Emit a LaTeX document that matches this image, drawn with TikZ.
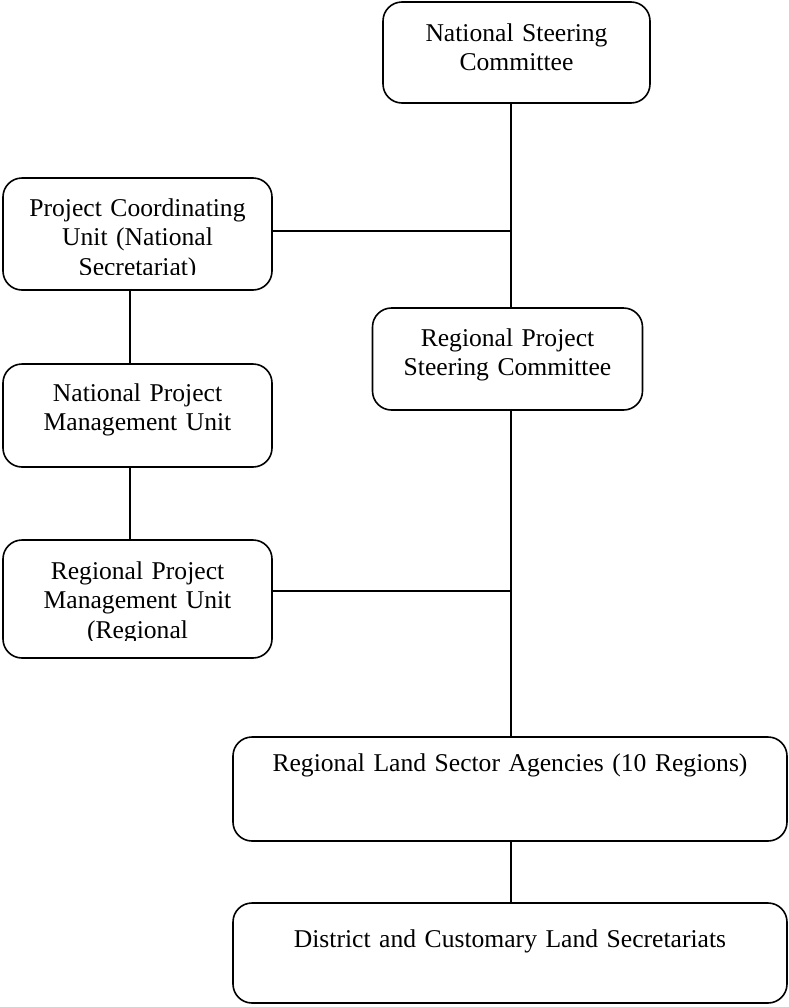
\documentclass[tikz,border=0pt]{standalone}
\usepackage{fontspec}
\setmainfont{Liberation Serif}

\begin{document}
\begin{tikzpicture}[x=1pt, y=-1pt,
    box/.style={rectangle, draw, line width=1.6pt, rounded corners=19pt, inner sep=0pt},
    lbl/.style={anchor=base, text width=262pt, align=center, inner sep=0pt, font=\fontsize{25.6}{29.5}\selectfont},
    link/.style={line width=1.5pt}]
    \useasboundingbox (0,0) rectangle (789,1007);

    % boxes
    \node [box, minimum width=267pt, minimum height=101pt] (nsc) at (516.5,52.5) {};
    \node [box, minimum width=269pt, minimum height=112pt] (pcu) at (137.5,234) {};
    \node [box, minimum width=270pt, minimum height=102pt] (rpsc) at (507.5,359) {};
    \node [box, minimum width=269pt, minimum height=103pt] (npmu) at (137.5,415.5) {};
    \node [box, minimum width=269pt, minimum height=118pt] (rpmu) at (137.5,599) {};
    \node [box, minimum width=554pt, minimum height=104pt] (rlsa) at (510,789) {};
    \node [box, minimum width=554pt, minimum height=100pt] (dcls) at (510,953) {};

    % labels
    \node [lbl] (nsc text) at ([yshift=-40pt]nsc.north) {National Steering\\Committee};
    \begin{scope}
        \clip (0,178) rectangle (280,274.5);
        \node [lbl] (pcu text) at ([yshift=-39pt]pcu.north) {Project Coordinating\\Unit (National\\Secretariat)};
    \end{scope}
    \node [lbl] (rpsc text) at ([yshift=-39pt]rpsc.north) {Regional Project\\Steering Committee};
    \node [lbl] (npmu text) at ([yshift=-38pt]npmu.north) {National Project\\Management Unit};
    \begin{scope}
        \clip (0,540) rectangle (280,640);
        \node [lbl] (rpmu text) at ([yshift=-40pt]rpmu.north) {Regional Project\\Management Unit\\(Regional};
    \end{scope}
    \node [lbl, text width=540pt] (rlsa text) at ([yshift=-35pt]rlsa.north) {Regional Land Sector Agencies (10 Regions)};
    \node [lbl, text width=540pt] (dcls text) at ([yshift=-45pt]dcls.north) {District and Customary Land Secretariats};

    % connectors
    \coordinate (spine) at (511,0);
    \coordinate (lspine) at (130,0);
    \coordinate (j1) at (511,231);
    \coordinate (j2) at (511,591);
    \draw [link] (nsc.south -| spine) -- (rpsc.north -| spine);
    \draw [link] (pcu.east |- j1) -- (j1);
    \draw [link] (pcu.south -| lspine) -- (npmu.north -| lspine);
    \draw [link] (npmu.south -| lspine) -- (rpmu.north -| lspine);
    \draw [link] (rpsc.south -| spine) -- (rlsa.north -| spine);
    \draw [link] (rpmu.east |- j2) -- (j2);
    \draw [link] (rlsa.south -| spine) -- (dcls.north -| spine);
\end{tikzpicture}
\end{document}
